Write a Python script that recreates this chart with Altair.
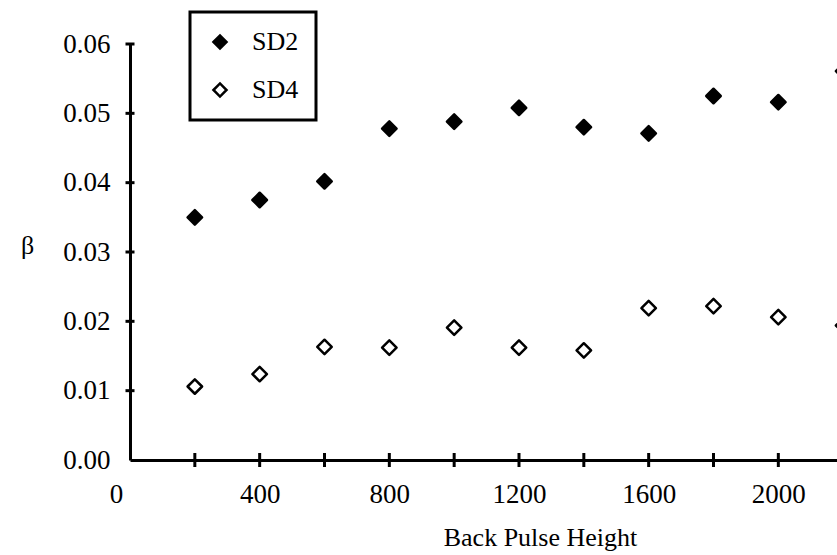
import altair as alt
import pandas as pd

# ---- data ----
pulse = [200, 400, 600, 800, 1000, 1200, 1400, 1600, 1800, 2000, 2200]
sd2 = [0.0350, 0.0375, 0.0402, 0.0478, 0.0488, 0.0508, 0.0480, 0.0471, 0.0525, 0.0516, 0.0561]
sd4 = [0.0106, 0.0124, 0.0163, 0.0162, 0.0191, 0.0162, 0.0158, 0.0219, 0.0222, 0.0206, 0.0194]
series_names = ["SD2", "SD4"]
x_tick_values = [200, 400, 600, 800, 1000, 1200, 1400, 1600, 1800, 2000]
x_label_values = [0, 400, 800, 1200, 1600, 2000]
y_tick_values = [0.01, 0.02, 0.03, 0.04, 0.05, 0.06]
y_label_values = [0.00, 0.01, 0.02, 0.03, 0.04, 0.05, 0.06]

FONT = "Liberation Serif"
FS = 26
LFS = 27

pts = pd.DataFrame(
    {"x": pulse * 2,
     "y": sd2 + sd4,
     "series": [series_names[0]] * len(pulse) + [series_names[1]] * len(pulse)}
)
xt = pd.DataFrame({"x": x_tick_values, "y": [0.0] * len(x_tick_values)})
yt = pd.DataFrame({"x": [0] * len(y_tick_values), "y": y_tick_values})

x_enc = alt.X(
    "x:Q",
    scale=alt.Scale(domain=[0, 2181], nice=False, zero=True),
    axis=alt.Axis(
        title="Back Pulse Height",
        values=x_label_values,
        format="d",
        ticks=False,
        grid=False,
        domainColor="black",
        domainWidth=3,
        labelFont=FONT,
        labelFontSize=LFS,
        labelColor="black",
        labelPadding=21,
        labelFlush=False,
        labelOffset=alt.condition("datum.value == 0", alt.value(-14), alt.value(0)),
        titleFont=FONT,
        titleFontSize=FS,
        titleFontWeight="normal",
        titleColor="black",
        titleX=410,
        titleY=85,
        titleBaseline="alphabetic",
        titleAlign="center",
    ),
)
y_enc = alt.Y(
    "y:Q",
    scale=alt.Scale(domain=[0, 0.06], nice=False, zero=True),
    axis=alt.Axis(
        title="β",
        values=y_label_values,
        format=".2f",
        ticks=False,
        grid=False,
        domainColor="black",
        domainWidth=3,
        labelFont=FONT,
        labelFontSize=LFS,
        labelColor="black",
        labelPadding=20,
        labelFlush=False,
        titleFont=FONT,
        titleFontSize=FS,
        titleFontWeight="normal",
        titleColor="black",
        titleAngle=0,
        titleX=-103,
        titleY=201,
        titleAlign="center",
        titleBaseline="middle",
    ),
)

points = alt.Chart(pts).mark_point(
    shape="diamond", filled=True, size=210, stroke="black", strokeWidth=2.5,
    strokeJoin="round", opacity=1,
).encode(
    x=x_enc,
    y=y_enc,
    fill=alt.Fill(
        "series:N",
        scale=alt.Scale(domain=series_names, range=["black", "white"]),
        legend=alt.Legend(
            orient="none",
            legendX=60,
            legendY=-32,
            title=None,
            fillColor="white",
            strokeColor="black",
            padding=17,
            symbolType="diamond",
            symbolSize=170,
            symbolStrokeColor="black",
            symbolStrokeWidth=2.5,
            labelFont=FONT,
            labelFontSize=FS,
            labelColor="black",
            labelOffset=19,
            rowPadding=22,
        ),
    ),
)

xticks = alt.Chart(xt).mark_tick(
    orient="vertical", size=14, thickness=3, color="black", opacity=1
).encode(x=x_enc, y=y_enc)

yticks = alt.Chart(yt).mark_tick(
    orient="horizontal", size=9, thickness=3, color="black", opacity=1
).encode(x=x_enc, y=y_enc)

chart = (
    alt.layer(points, xticks, yticks)
    .properties(
        width=707,
        height=416,
        padding={"left": 130, "top": 44, "right": 0, "bottom": 95},
        autosize=alt.AutoSizeParams(type="none"),
        background="white",
    )
    .configure_view(stroke=None)
    .configure_legend(strokeWidth=3)
)

chart.save("out.html", embed_options={"renderer": "svg", "actions": False})
